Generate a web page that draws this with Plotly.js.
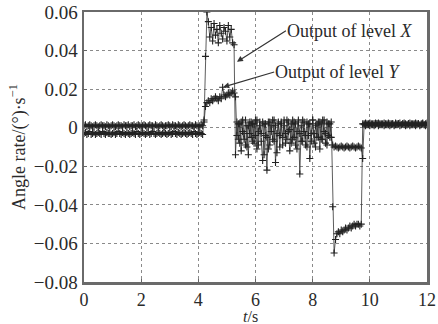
<!DOCTYPE html>
<html><head><meta charset="utf-8">
<script src="https://cdn.plot.ly/plotly-3.0.1.min.js"></script>
<style>html,body{margin:0;padding:0;background:#fff}#c{width:438px;height:324px}</style>
</head><body><div id="c"></div>
<script>
// sampling: t = 0 .. 12 s, step 0.05 s (handled by Plotly x0/dx)
const tStart = 0, tStep = 0.05;

const levelX = [
-0.003,-0.0025,-0.0035,-0.003,-0.002,-0.0035,-0.003,-0.0025,-0.0035,-0.003,
-0.0025,-0.003,-0.0035,-0.002,-0.003,-0.0035,-0.0025,-0.003,-0.003,-0.0035,
-0.003,-0.0025,-0.0035,-0.003,-0.002,-0.003,-0.0035,-0.0025,-0.003,-0.0035,
-0.0025,-0.003,-0.0035,-0.003,-0.0025,-0.003,-0.0035,-0.002,-0.003,-0.0035,
-0.003,-0.0025,-0.003,-0.0035,-0.003,-0.0025,-0.0035,-0.003,-0.002,-0.003,
-0.0035,-0.003,-0.0025,-0.003,-0.0035,-0.003,-0.0025,-0.003,-0.0035,-0.003,
-0.0025,-0.0035,-0.003,-0.002,-0.003,-0.0035,-0.0025,-0.003,-0.0035,-0.003,
-0.0025,-0.003,-0.0035,-0.003,-0.0025,-0.003,-0.0035,-0.002,-0.003,-0.0035,
-0.003,-0.0025,-0.003,-0.0035,
0.004,
0.037,0.060,0.055,0.047,0.052,
0.045,0.054,0.048,0.051,0.044,0.053,0.049,0.046,0.052,0.050,
0.045,0.053,0.047,0.051,0.044,0.043,
-0.014,
0.003,-0.006,0.002,-0.012,0.004,-0.003,-0.009,0.001,-0.014,0.003,
-0.005,0.002,-0.008,0.004,-0.011,-0.002,0.003,-0.007,-0.017,0.002,
-0.004,-0.022,0.003,-0.009,0.001,-0.006,0.004,-0.018,-0.003,0.002,
-0.010,0.003,-0.005,0.001,-0.008,0.004,-0.002,-0.012,0.002,-0.006,
0.003,-0.009,-0.002,0.004,-0.024,0.001,-0.007,0.003,-0.004,-0.010,
0.002,-0.016,-0.003,0.004,-0.008,0.001,-0.005,0.003,-0.011,0.002,
-0.006,0.004,-0.003,-0.009,0.002,-0.005,0.003,
-0.041,
-0.065,-0.058,-0.055,-0.054,-0.055,-0.053,-0.054,-0.053,-0.052,-0.053,
-0.052,-0.051,-0.052,-0.051,-0.050,-0.051,-0.050,-0.050,-0.051,-0.050,
0.002,
0.002,0.0025,0.0015,0.002,0.0025,0.002,0.0015,0.002,0.0025,0.002,
0.0025,0.002,0.0015,0.002,0.0025,0.002,0.0015,0.0025,0.002,0.002,
0.002,0.0015,0.0025,0.002,0.002,0.0025,0.0015,0.002,0.0025,0.002,
0.0015,0.002,0.0025,0.002,0.0015,0.002,0.0025,0.002,0.002,0.0015,
0.002,0.0025,0.0015,0.002,0.0025
];

const levelY = [
0.001,0.0015,0.0005,0.001,0.0015,0.001,0.0005,0.001,0.0015,0.001,
0.0005,0.001,0.0015,0.001,0.001,0.0005,0.0015,0.001,0.0005,0.001,
0.0015,0.001,0.0005,0.001,0.0015,0.001,0.001,0.0005,0.0015,0.001,
0.001,0.0015,0.0005,0.001,0.001,0.0015,0.0005,0.001,0.0015,0.001,
0.0005,0.001,0.0015,0.001,0.0005,0.001,0.0015,0.001,0.001,0.0005,
0.0015,0.001,0.0005,0.001,0.0015,0.001,0.0005,0.001,0.001,0.0015,
0.001,0.0005,0.0015,0.001,0.001,0.0005,0.0015,0.001,0.0005,0.001,
0.0015,0.001,0.0005,0.001,0.0015,0.001,0.001,0.0005,0.0015,0.001,
0.0005,0.001,0.0015,0.001,
0.003,
0.011,0.013,0.014,0.013,0.015,
0.014,0.015,0.016,0.015,0.014,0.016,0.015,0.021,0.017,0.016,
0.017,0.018,0.017,0.018,0.019,0.018,
0.016,
-0.004,0.002,-0.008,0.003,-0.002,-0.006,0.004,-0.010,0.001,-0.003,
0.003,-0.007,0.002,-0.004,0.004,-0.009,0.001,-0.003,0.003,-0.014,
0.002,-0.005,-0.011,0.003,-0.002,0.004,-0.007,0.001,-0.013,0.003,
-0.004,0.002,-0.009,0.004,-0.003,-0.006,0.003,-0.001,-0.008,0.004,
-0.005,0.002,-0.011,0.003,-0.003,-0.007,0.004,-0.002,-0.009,0.003,
-0.004,0.002,-0.007,0.004,-0.003,-0.010,0.002,-0.005,0.003,-0.006,
0.004,-0.002,-0.008,0.003,-0.004,0.002,-0.005,
-0.009,
-0.010,-0.0095,-0.010,-0.0105,-0.010,-0.0095,-0.010,-0.0105,-0.010,-0.0095,
-0.010,-0.0105,-0.010,-0.0095,-0.010,-0.0105,-0.010,-0.0095,-0.010,-0.0105,
-0.016,
0.0015,0.001,0.002,0.0015,0.001,0.0015,0.002,0.001,0.0015,0.002,
0.001,0.0015,0.002,0.0015,0.001,0.0015,0.002,0.0015,0.001,0.0015,
0.002,0.001,0.0015,0.0015,0.002,0.001,0.0015,0.002,0.0015,0.001,
0.0015,0.002,0.001,0.0015,0.002,0.0015,0.001,0.0015,0.002,0.001,
0.0015,0.002,0.0015,0.001,0.0015
];

const xTicks = [0, 2, 4, 6, 8, 10, 12];
const yTicks = [-0.08, -0.06, -0.04, -0.02, 0, 0.02, 0.04, 0.06];
const yTickText = ['\u22120.08', '\u22120.06', '\u22120.04', '\u22120.02', '0', '0.02', '0.04', '0.06'];
const labelX = 'Output of level <i>X</i>';
const labelY = 'Output of level <i>Y</i>';
const xTitle = '<i>t</i>/s';

const serif = 'Liberation Serif, Times New Roman, serif';
const ink = '#2a2a2a';

function trace(y) {
  return {
    type: 'scatter', mode: 'lines+markers', y: y, x0: tStart, dx: tStep,
    line: {color: '#333', width: 0.8},
    marker: {symbol: 'cross-thin', size: 5, line: {width: 1.1, color: '#222'}, color: '#222'},
    showlegend: false, hoverinfo: 'skip'
  };
}

const axisCommon = {
  showline: true, linecolor: '#6a6a6a', linewidth: 2.5, mirror: true,
  ticks: 'inside', ticklen: 3, tickcolor: '#666', tickwidth: 1,
  showgrid: true, gridcolor: '#8a8a8a', gridwidth: 1, griddash: 'dot',
  zeroline: false,
  tickfont: {family: serif, size: 19, color: ink}
};

const layout = {
  width: 438, height: 324,
  margin: {l: 84, r: 11, t: 12, b: 42},
  paper_bgcolor: '#fff', plot_bgcolor: '#fff',
  xaxis: Object.assign({}, axisCommon, {
    range: [0, 12], tickvals: xTicks, ticktext: xTicks.map(String),
    tickfont: {family: serif, size: 18, color: ink}
  }),
  yaxis: Object.assign({}, axisCommon, {
    range: [-0.08, 0.06], tickvals: yTicks, ticktext: yTickText,
    title: {text: 'Angle rate/(°)·s<sup>−1</sup>', font: {family: serif, size: 18, color: ink}, standoff: 4}
  }),
  annotations: [
    {x: 5.35, y: 0.0342, xref: 'x', yref: 'y', text: labelX, showarrow: true,
     ax: 49, ay: -31, xanchor: 'left', yanchor: 'middle', borderpad: 0,
     arrowhead: 2, arrowsize: 1, arrowwidth: 1.2, arrowcolor: '#333',
     font: {family: serif, size: 18, color: ink}},
    {x: 4.87, y: 0.0211, xref: 'x', yref: 'y', text: labelY, showarrow: true,
     ax: 51, ay: -15, xanchor: 'left', yanchor: 'middle', borderpad: 0,
     arrowhead: 2, arrowsize: 1, arrowwidth: 1.2, arrowcolor: '#333',
     font: {family: serif, size: 18, color: ink}},
    {x: 0.485, y: 0, xref: 'paper', yref: 'paper', text: xTitle, showarrow: false,
     xanchor: 'center', yanchor: 'top', yshift: -25, borderpad: 0,
     font: {family: serif, size: 16, color: ink}}
  ]
};

Plotly.newPlot('c', [trace(levelX), trace(levelY)], layout, {displayModeBar: false, staticPlot: true});
</script>
</body></html>
